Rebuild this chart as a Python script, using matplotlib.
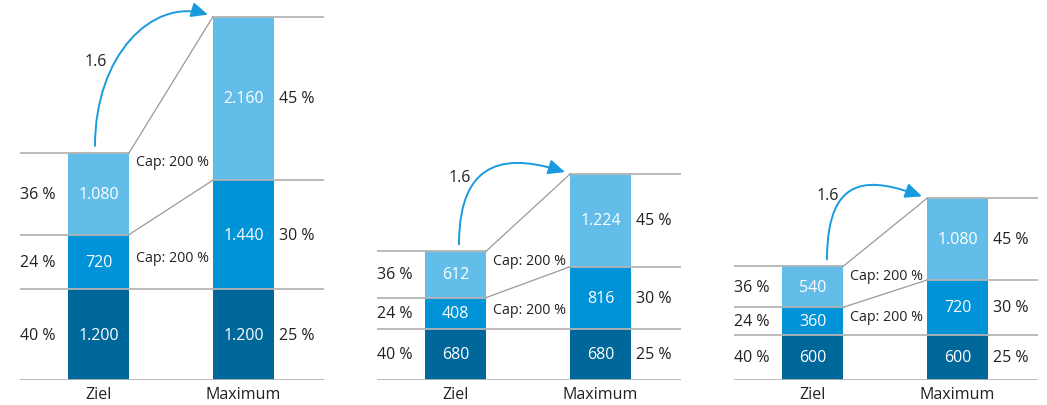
import matplotlib.pyplot as plt
import numpy as np
from matplotlib.patches import FancyArrowPatch
from matplotlib.path import Path

# values per scenario (three panels), segments bottom -> top
ziel_base = [1200, 680, 600]
ziel_mid = [720, 408, 360]
ziel_top = [1080, 612, 540]
max_base = [1200, 680, 600]
max_mid = [1440, 816, 720]
max_top = [2160, 1224, 1080]
bar_labels = ['Ziel', 'Maximum']

colors = ['#00679a', '#0093d8', '#62bde9']
line_col = '#b4b4b4'
arrow_col = '#1a9be0'

plt.rcParams['font.family'] = ['Open Sans', 'DejaVu Sans']
FS = 11.5


def fmt(v):
    return '{:,}'.format(int(v)).replace(',', '.')


W, H = 1047, 406
fig = plt.figure(figsize=(W / 100, H / 100), dpi=100)

px_per_unit = 0.0757
ymax = 381 / px_per_unit
unit_px = 145.0            # px between the two bar centres
bw = 61 / unit_px
xl, xr = -78.5 / unit_px, (304 - 78.5) / unit_px
panel_left = [20, 377, 734]
label_dy = [92, 74, 71]     # px above Ziel top for the factor label
arrow_dx = [-3.5, 3.5, 14.5]

for g in range(3):
    ax = fig.add_axes([panel_left[g] / W, 25 / H, 304 / W, 381 / H])
    ax.set_xlim(xl, xr)
    ax.set_ylim(0, ymax)
    ax.axis('off')

    z = [ziel_base[g], ziel_mid[g], ziel_top[g]]
    m = [max_base[g], max_mid[g], max_top[g]]
    zc = np.cumsum([0] + z)
    mc = np.cumsum([0] + m)
    zt, mt = zc[-1], mc[-1]

    for i in range(3):
        ax.bar(0, z[i], bottom=zc[i], width=bw, color=colors[i], zorder=1)
        ax.bar(1, m[i], bottom=mc[i], width=bw, color=colors[i], zorder=1)
        ax.text(0, zc[i] + z[i] / 2, fmt(z[i]), color='white', ha='center',
                va='center', fontsize=FS, zorder=3)
        ax.text(1, mc[i] + m[i] / 2, fmt(m[i]), color='white', ha='center',
                va='center', fontsize=FS, zorder=3)
        ax.text(xl, zc[i] + z[i] / 2, '{:.0f} %'.format(100 * z[i] / zt),
                ha='left', va='center', fontsize=FS, color='#222222')
        ax.text(1 + bw / 2 + 5 / unit_px, mc[i] + m[i] / 2,
                '{:.0f} %'.format(100 * m[i] / mt),
                ha='left', va='center', fontsize=FS, color='#222222')

    # level lines
    ax.plot([xl, xr], [0, 0], color=line_col, lw=1.3, zorder=2)
    ax.plot([xl, xr], [zc[1], zc[1]], color=line_col, lw=1.3, zorder=2)
    for lvl in zc[2:]:
        ax.plot([xl, bw / 2], [lvl, lvl], color=line_col, lw=1.3, zorder=2)
    for lvl in mc[2:]:
        ax.plot([1 - bw / 2, xr], [lvl, lvl], color=line_col, lw=1.3, zorder=2)
    for k in (2, 3):
        ax.plot([bw / 2, 1 - bw / 2], [zc[k], mc[k]], color='#9a9a9a',
                lw=0.9, zorder=2)

    # cap labels
    cap_x = bw / 2 + 7 / unit_px
    ax.text(cap_x, zt - 9 / px_per_unit,
            'Cap: {:.0f} %'.format(100 * m[2] / z[2]),
            ha='left', va='center', fontsize=10.3, color='#222222')
    ax.text(cap_x, zc[1] + z[1] / 2 + 4 / px_per_unit,
            'Cap: {:.0f} %'.format(100 * m[1] / z[1]),
            ha='left', va='center', fontsize=10.3, color='#222222')

    # factor arrow (cubic curve from above Ziel to the Maximum top)
    x0, y0 = arrow_dx[g] / unit_px, zt + 7 / px_per_unit
    x3, y3 = 1 - bw / 2 - 5 / unit_px, mt + 2 / px_per_unit
    verts = [(x0, y0), (x0, y0 + 90 / px_per_unit),
             (x3 - 0.5 * (x3 - x0), y3 + 17 / px_per_unit), (x3, y3)]
    path = Path(verts, [Path.MOVETO, Path.CURVE4, Path.CURVE4, Path.CURVE4])
    arr = FancyArrowPatch(path=path,
                          arrowstyle='-|>,head_length=1.0,head_width=0.45',
                          mutation_scale=10, color=arrow_col, lw=1.4,
                          transform=ax.transData, clip_on=False, zorder=4)
    ax.add_patch(arr)
    ax.text(x0 + 1 / unit_px, zt + label_dy[g] / px_per_unit,
            '{:.1f}'.format(mt / zt), ha='center', va='center',
            fontsize=FS, color='#222222')

    for i, lab in enumerate(bar_labels):
        ax.text(i, -14 / px_per_unit, lab, ha='center', va='center',
                fontsize=FS, color='#222222', clip_on=False)

fig.savefig('out.png', dpi=100)
